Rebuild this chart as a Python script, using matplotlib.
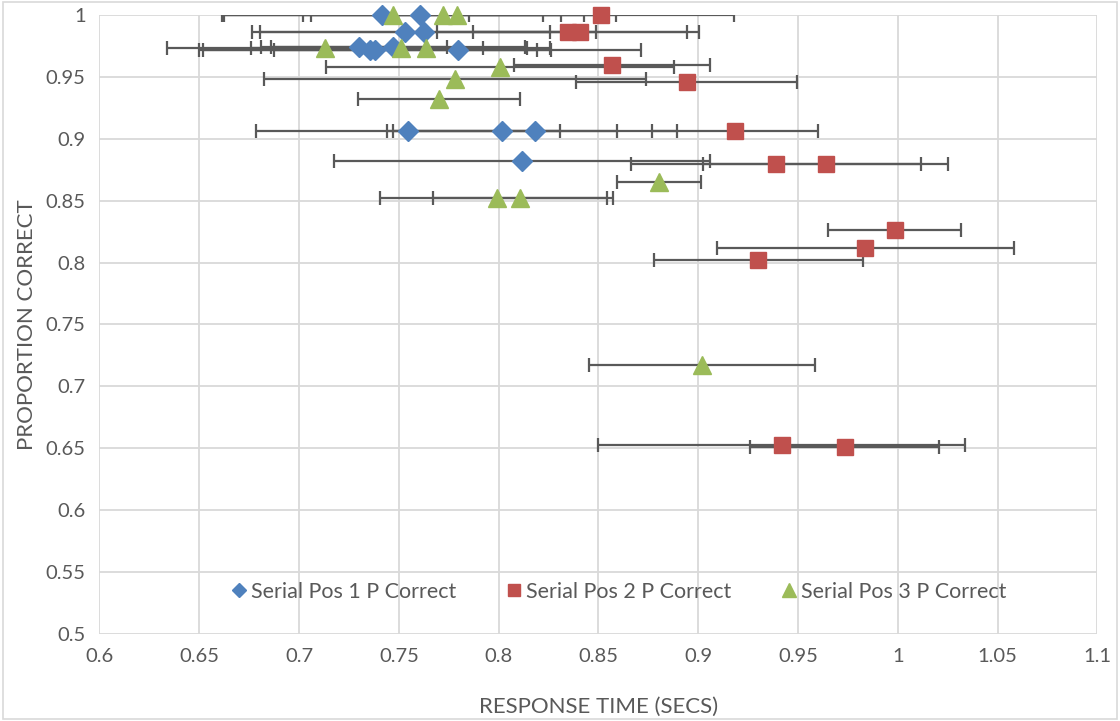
import matplotlib
matplotlib.use("Agg")
import matplotlib.pyplot as plt
from matplotlib.patches import Rectangle

# Serial position 1 (response time, proportion correct, +/- error on time)
pos1_rt = [0.7418, 0.7604, 0.7531, 0.7626, 0.7300, 0.7355, 0.7380, 0.7470, 0.7794,
           0.7547, 0.8017, 0.8182, 0.8117]
pos1_pc = [1.000, 1.000, 0.986, 0.986, 0.974, 0.972, 0.972, 0.974, 0.972,
           0.906, 0.906, 0.906, 0.882]
pos1_err = [0.0803, 0.0983, 0.0726, 0.0864, 0.0440, 0.0835, 0.0880, 0.0660, 0.0917,
            0.0762, 0.0577, 0.0710, 0.0940]

# Serial position 2
pos2_rt = [0.8515, 0.8349, 0.8407, 0.8568, 0.8943, 0.9184, 0.9389, 0.9638, 0.9985,
           0.9837, 0.9302, 0.9418, 0.9734]
pos2_pc = [1.000, 0.986, 0.986, 0.960, 0.946, 0.906, 0.880, 0.880, 0.826,
           0.812, 0.802, 0.653, 0.651]
pos2_err = [0.0664, 0.0656, 0.0535, 0.0491, 0.0553, 0.0414, 0.0726, 0.0615, 0.0334,
            0.0745, 0.0524, 0.0918, 0.0472]

# Serial position 3
pos3_rt = [0.7469, 0.7723, 0.7791, 0.7130, 0.7509, 0.7636, 0.8009, 0.7781, 0.7700,
           0.8802, 0.7990, 0.8107, 0.9020]
pos3_pc = [1.000, 1.000, 1.000, 0.973, 0.973, 0.973, 0.958, 0.948, 0.932,
           0.865, 0.852, 0.852, 0.717]
pos3_err = [0.0843, 0.0703, 0.0731, 0.0793, 0.0749, 0.0506, 0.0872, 0.0955, 0.0406,
            0.0210, 0.0585, 0.0434, 0.0566]

series = [
    ("Serial Pos 1 P Correct", pos1_rt, pos1_pc, pos1_err, "#4F81BD", "D", 10),
    ("Serial Pos 2 P Correct", pos2_rt, pos2_pc, pos2_err, "#C0504D", "s", 12),
    ("Serial Pos 3 P Correct", pos3_rt, pos3_pc, pos3_err, "#9BBB59", "^", 13),
]

plt.rcParams['font.family'] = ['Lato', 'DejaVu Sans']
text_col = "#595959"
grid_col = "#d9d9d9"

fig = plt.figure(figsize=(11.2, 7.21), dpi=100)
ax = fig.add_axes([0.0888, 0.1207, 0.891, 0.8585])

for name, x, y, err, col, mk, ms in series:
    ax.errorbar(x, y, xerr=err, fmt='none', ecolor=text_col, elinewidth=1.6,
                capsize=5, capthick=1.6, zorder=2)

for name, x, y, err, col, mk, ms in series:
    ax.plot(x, y, linestyle='none', marker=mk, markersize=ms, color=col,
            markeredgecolor=col, label=name, zorder=3, clip_on=False)

ax.set_xlim(0.6, 1.1)
ax.set_ylim(0.5, 1.0)
ax.set_xticks([0.6 + 0.05 * i for i in range(11)])
ax.set_yticks([0.5 + 0.05 * i for i in range(11)])
ax.set_xticklabels(["0.6", "0.65", "0.7", "0.75", "0.8", "0.85", "0.9", "0.95", "1", "1.05", "1.1"])
ax.set_yticklabels(["0.5", "0.55", "0.6", "0.65", "0.7", "0.75", "0.8", "0.85", "0.9", "0.95", "1"])
ax.grid(True, color=grid_col, linewidth=1.3, zorder=0)
ax.set_axisbelow(True)
for s in ax.spines.values():
    s.set_visible(False)
ax.tick_params(length=0, labelsize=14.5, labelcolor=text_col, pad=10)

ax.set_xlabel("RESPONSE TIME (SECS)", fontsize=16, color=text_col, labelpad=23)
ax.set_ylabel("PROPORTION CORRECT", fontsize=16, color=text_col)
ax.yaxis.set_label_coords(-0.0626, 0.5)

leg = ax.legend(loc='center', bbox_to_anchor=(0.519, 0.068), ncol=3, frameon=False,
                fontsize=15.5, handletextpad=0.05, columnspacing=2.2, markerscale=0.75,
                handlelength=1.0)
for t in leg.get_texts():
    t.set_color(text_col)

fig.patches.append(Rectangle((0.003, 0.003), 0.994, 0.994, transform=fig.transFigure,
                             fill=False, edgecolor=grid_col, linewidth=1.2))

fig.savefig("out.png", dpi=100)
